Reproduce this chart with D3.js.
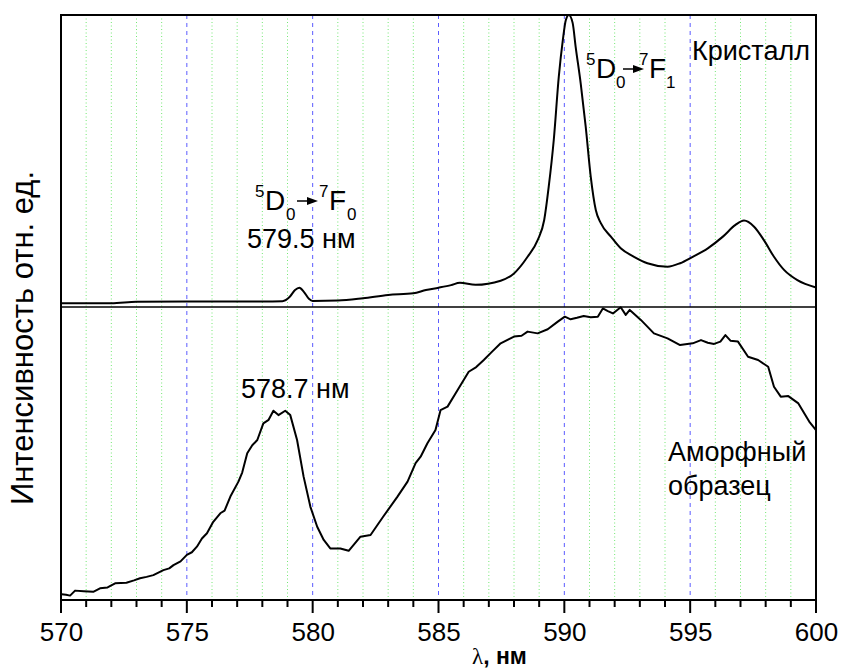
<!DOCTYPE html>
<html>
<head>
<meta charset="utf-8">
<script src="https://cdn.jsdelivr.net/npm/d3@7"></script>
<style>
  body { margin: 0; background: #fff; }
  text { font-family: "Liberation Sans", Arial, sans-serif; fill: #000; }
</style>
</head>
<body>
<div id="chart"></div>
<script>
// data (intensity in % of each panel height)
var crystalWl = [570, 572, 573, 575, 578, 578.8, 579.1, 579.3, 579.47, 579.65, 579.85, 580.0, 581, 582, 583, 584, 584.5,
  585, 585.5, 585.85, 586.47, 587.47, 588.0, 588.54, 588.94, 589.2, 589.38, 589.58, 589.78, 589.94, 590.06, 590.18,
  590.33, 590.45, 590.65, 590.85, 591.05, 591.25, 591.45, 591.85, 592.24, 592.77, 593.3, 594.1, 594.6, 595.1, 595.7,
  596.3, 596.8, 597.14, 597.54, 597.93, 598.33, 598.73, 599.26, 600];
var crystalI = [1.3, 1.3, 1.8, 1.9, 1.9, 2.0, 3.6, 5.8, 6.6, 5.2, 2.8, 2.05, 2.2, 3.0, 4.1, 4.7, 5.8,
  6.6, 7.5, 8.3, 7.6, 9.0, 11.5, 17.2, 22.9, 29.8, 41.2, 57.2, 78.9, 91.4, 98.3, 100,
  97.3, 89.1, 76.6, 61.7, 44.6, 33.2, 28.7, 24.1, 20.1, 17.2, 15.0, 13.8, 15.0, 17.2, 20.1,
  24.1, 28.1, 29.6, 27.5, 22.9, 17.2, 12.7, 9.2, 6.7];

var amorphWl = [570.03, 570.2, 570.36, 570.56, 570.9, 571.28, 571.55, 571.85, 572.15, 572.6, 572.9, 573.14, 573.4, 573.67,
  574.07, 574.3, 574.47, 574.75, 575.0, 575.2, 575.4, 575.6, 575.8, 576.05, 576.33, 576.5, 576.73, 577.05, 577.2, 577.4, 577.6, 577.8, 578.04,
  578.25, 578.44, 578.64, 578.91, 579.11, 579.38, 579.64, 579.91, 580.18, 580.44, 580.7, 581.1, 581.43, 581.9,
  582.3, 582.8, 583.37, 583.77, 584.09, 584.29, 584.56, 584.88, 585.08, 585.36, 585.76, 586.2, 586.5, 586.8,
  587.1, 587.47, 588.0, 588.3, 588.54, 588.94, 589.34, 589.74, 590.02, 590.25, 590.5, 590.77, 591.05, 591.33,
  591.53, 591.73, 591.93, 592.24, 592.44, 592.6, 593.04, 593.56, 594.1, 594.6, 595.1, 595.43, 595.7, 595.95,
  596.2, 596.4, 596.6, 596.9, 597.3, 597.7, 598.1, 598.33, 598.6, 598.9, 599.3, 599.73, 600];
var amorphI = [2.0, 1.8, 1.5, 3.2, 3.0, 2.8, 4.0, 4.3, 5.7, 5.9, 6.7, 7.4, 7.9, 8.5,
  10.2, 10.8, 11.9, 13.2, 15.4, 16.3, 18.2, 21.0, 22.8, 26.7, 29.6, 30.5, 35.3, 40.4, 43.5, 50.1, 52.8, 54.6, 60.3,
  61.5, 64.6, 63.1, 64.6, 63.1, 54.6, 42.1, 31.8, 25.0, 20.5, 17.6, 17.6, 16.8, 21.6,
  22.2, 28.4, 35.3, 40.4, 46.7, 48.9, 53.5, 58.0, 64.8, 66.0, 71.7, 77.9, 79.5, 81.9,
  84.5, 87.6, 89.9, 90.2, 91.6, 91.0, 92.4, 95.0, 96.7, 95.8, 96.3, 96.9, 96.5, 96.7,
  99.5, 98.6, 97.8, 99.9, 97.3, 99.0, 95.6, 91.0, 89.3, 87.0, 87.6, 88.7, 87.8, 87.4,
  88.2, 90.4, 88.5, 88.2, 83.0, 81.9, 79.6, 72.8, 69.4, 69.6, 67.1, 60.9, 58.0];

var xTicks = [570, 575, 580, 585, 590, 595, 600];
var xMinor = d3.range(570, 601);

// Step 1: chart size
var svg_width = 841;
var svg_height = 670;
var margin = { top: 15, right: 25, bottom: 70, left: 61 };
var width = svg_width - margin.left - margin.right;
var height = svg_height - margin.top - margin.bottom;
var split = 292; // divider between crystal (top) and amorphous (bottom) panels

var svg = d3.select("#chart").append("svg")
  .attr("width", svg_width)
  .attr("height", svg_height);

var chartGroup = svg.append("g")
  .attr("transform", `translate(${margin.left}, ${margin.top})`);

// Step 2: scales
var xScale = d3.scaleLinear().domain([570, 600]).range([0, width]);
var yTop = d3.scaleLinear().domain([0, 100]).range([split, 0]);
var yBot = d3.scaleLinear().domain([0, 100]).range([height, split]);

// grid: green dotted every nm, blue dashed every 5 nm
chartGroup.selectAll(".gminor").data(xMinor.filter(d => d % 5 !== 0)).enter().append("line")
  .attr("x1", d => xScale(d)).attr("x2", d => xScale(d))
  .attr("y1", 0).attr("y2", height)
  .attr("stroke", "#74e874").attr("stroke-width", 1)
  .attr("stroke-dasharray", "1,2.5");

chartGroup.selectAll(".gmajor").data(xTicks.slice(1, -1)).enter().append("line")
  .attr("x1", d => xScale(d)).attr("x2", d => xScale(d))
  .attr("y1", 0).attr("y2", height)
  .attr("stroke", "#5c5cff").attr("stroke-width", 1)
  .attr("stroke-dasharray", "4,4");

// lines
var lineTop = d3.line()
  .x(d => xScale(d[0]))
  .y(d => yTop(d[1]))
  .curve(d3.curveMonotoneX);
var lineBot = d3.line()
  .x(d => xScale(d[0]))
  .y(d => yBot(d[1]));

chartGroup.append("path")
  .datum(d3.zip(crystalWl, crystalI))
  .attr("d", lineTop)
  .attr("fill", "none").attr("stroke", "#000").attr("stroke-width", 2)
  .attr("stroke-linejoin", "round");

chartGroup.append("path")
  .datum(d3.zip(amorphWl, amorphI))
  .attr("d", lineBot)
  .attr("fill", "none").attr("stroke", "#000").attr("stroke-width", 2)
  .attr("stroke-linejoin", "round");

// frame + divider
chartGroup.append("rect")
  .attr("width", width).attr("height", height)
  .attr("fill", "none").attr("stroke", "#000").attr("stroke-width", 2);
chartGroup.append("line")
  .attr("x1", 0).attr("x2", width)
  .attr("y1", split).attr("y2", split)
  .attr("stroke", "#000").attr("stroke-width", 1.5);

// x axis: tick marks below the frame, long at every 5 nm
chartGroup.selectAll(".xtick").data(xMinor).enter().append("line")
  .attr("class", "xtick")
  .attr("x1", d => xScale(d)).attr("x2", d => xScale(d))
  .attr("y1", height).attr("y2", d => height + (d % 5 === 0 ? 13 : 7))
  .attr("stroke", "#000").attr("stroke-width", 2);

var bottomAxis = d3.axisBottom(xScale).tickValues(xTicks).tickSize(0).tickPadding(23);
var xAxis = chartGroup.append("g")
  .attr("transform", `translate(0, ${height})`)
  .call(bottomAxis);
xAxis.select(".domain").remove();
xAxis.selectAll("text")
  .attr("font-size", 26)
  .attr("font-family", "Liberation Sans, Arial, sans-serif")
  .attr("fill", "#000");

// axis titles
svg.append("text")
  .attr("transform", "translate(33, 338) rotate(-90)")
  .attr("text-anchor", "middle")
  .attr("font-size", 31)
  .text("Интенсивность отн. ед.");

var xt = svg.append("text")
  .attr("x", 472).attr("y", 664)
  .attr("font-size", 23);
xt.append("tspan").attr("font-family", "Liberation Serif, Times New Roman, serif").text("λ");
xt.append("tspan").text(", нм").attr("font-weight", "bold");

// transition label: 5D0 -> 7F(n); p holds the x of each piece, yb the baseline
function transition(p, yb, n) {
  var big = 28, small = 17;
  svg.append("text").attr("x", p[0]).attr("y", yb - 13).attr("font-size", small).text("5");
  svg.append("text").attr("x", p[1]).attr("y", yb).attr("font-size", big).text("D");
  svg.append("text").attr("x", p[2]).attr("y", yb + 10).attr("font-size", small).text("0");
  var ay = yb - 9;
  svg.append("line")
    .attr("x1", p[3]).attr("x2", p[4] - 8).attr("y1", ay).attr("y2", ay)
    .attr("stroke", "#000").attr("stroke-width", 1.5);
  svg.append("path")
    .attr("d", `M${p[4] - 11},${ay - 4}L${p[4]},${ay}L${p[4] - 11},${ay + 4}Z`)
    .attr("fill", "#000");
  svg.append("text").attr("x", p[5]).attr("y", yb - 13).attr("font-size", small).text("7");
  svg.append("text").attr("x", p[6]).attr("y", yb).attr("font-size", big).text("F");
  svg.append("text").attr("x", p[7]).attr("y", yb + 10).attr("font-size", small).text(n);
}
transition([255, 265, 286, 297, 318, 319, 329, 347], 210, "0");
transition([586, 596, 616, 623, 644, 639, 649, 666], 78, "1");

svg.append("text").attr("x", 247).attr("y", 248).attr("font-size", 27).text("579.5 нм");
svg.append("text").attr("x", 241).attr("y", 398).attr("font-size", 27).text("578.7 нм");
svg.append("text").attr("x", 692).attr("y", 60).attr("font-size", 27).text("Кристалл");
svg.append("text").attr("x", 668).attr("y", 461).attr("font-size", 27).text("Аморфный");
svg.append("text").attr("x", 668).attr("y", 495).attr("font-size", 27).text("образец");
</script>
</body>
</html>
